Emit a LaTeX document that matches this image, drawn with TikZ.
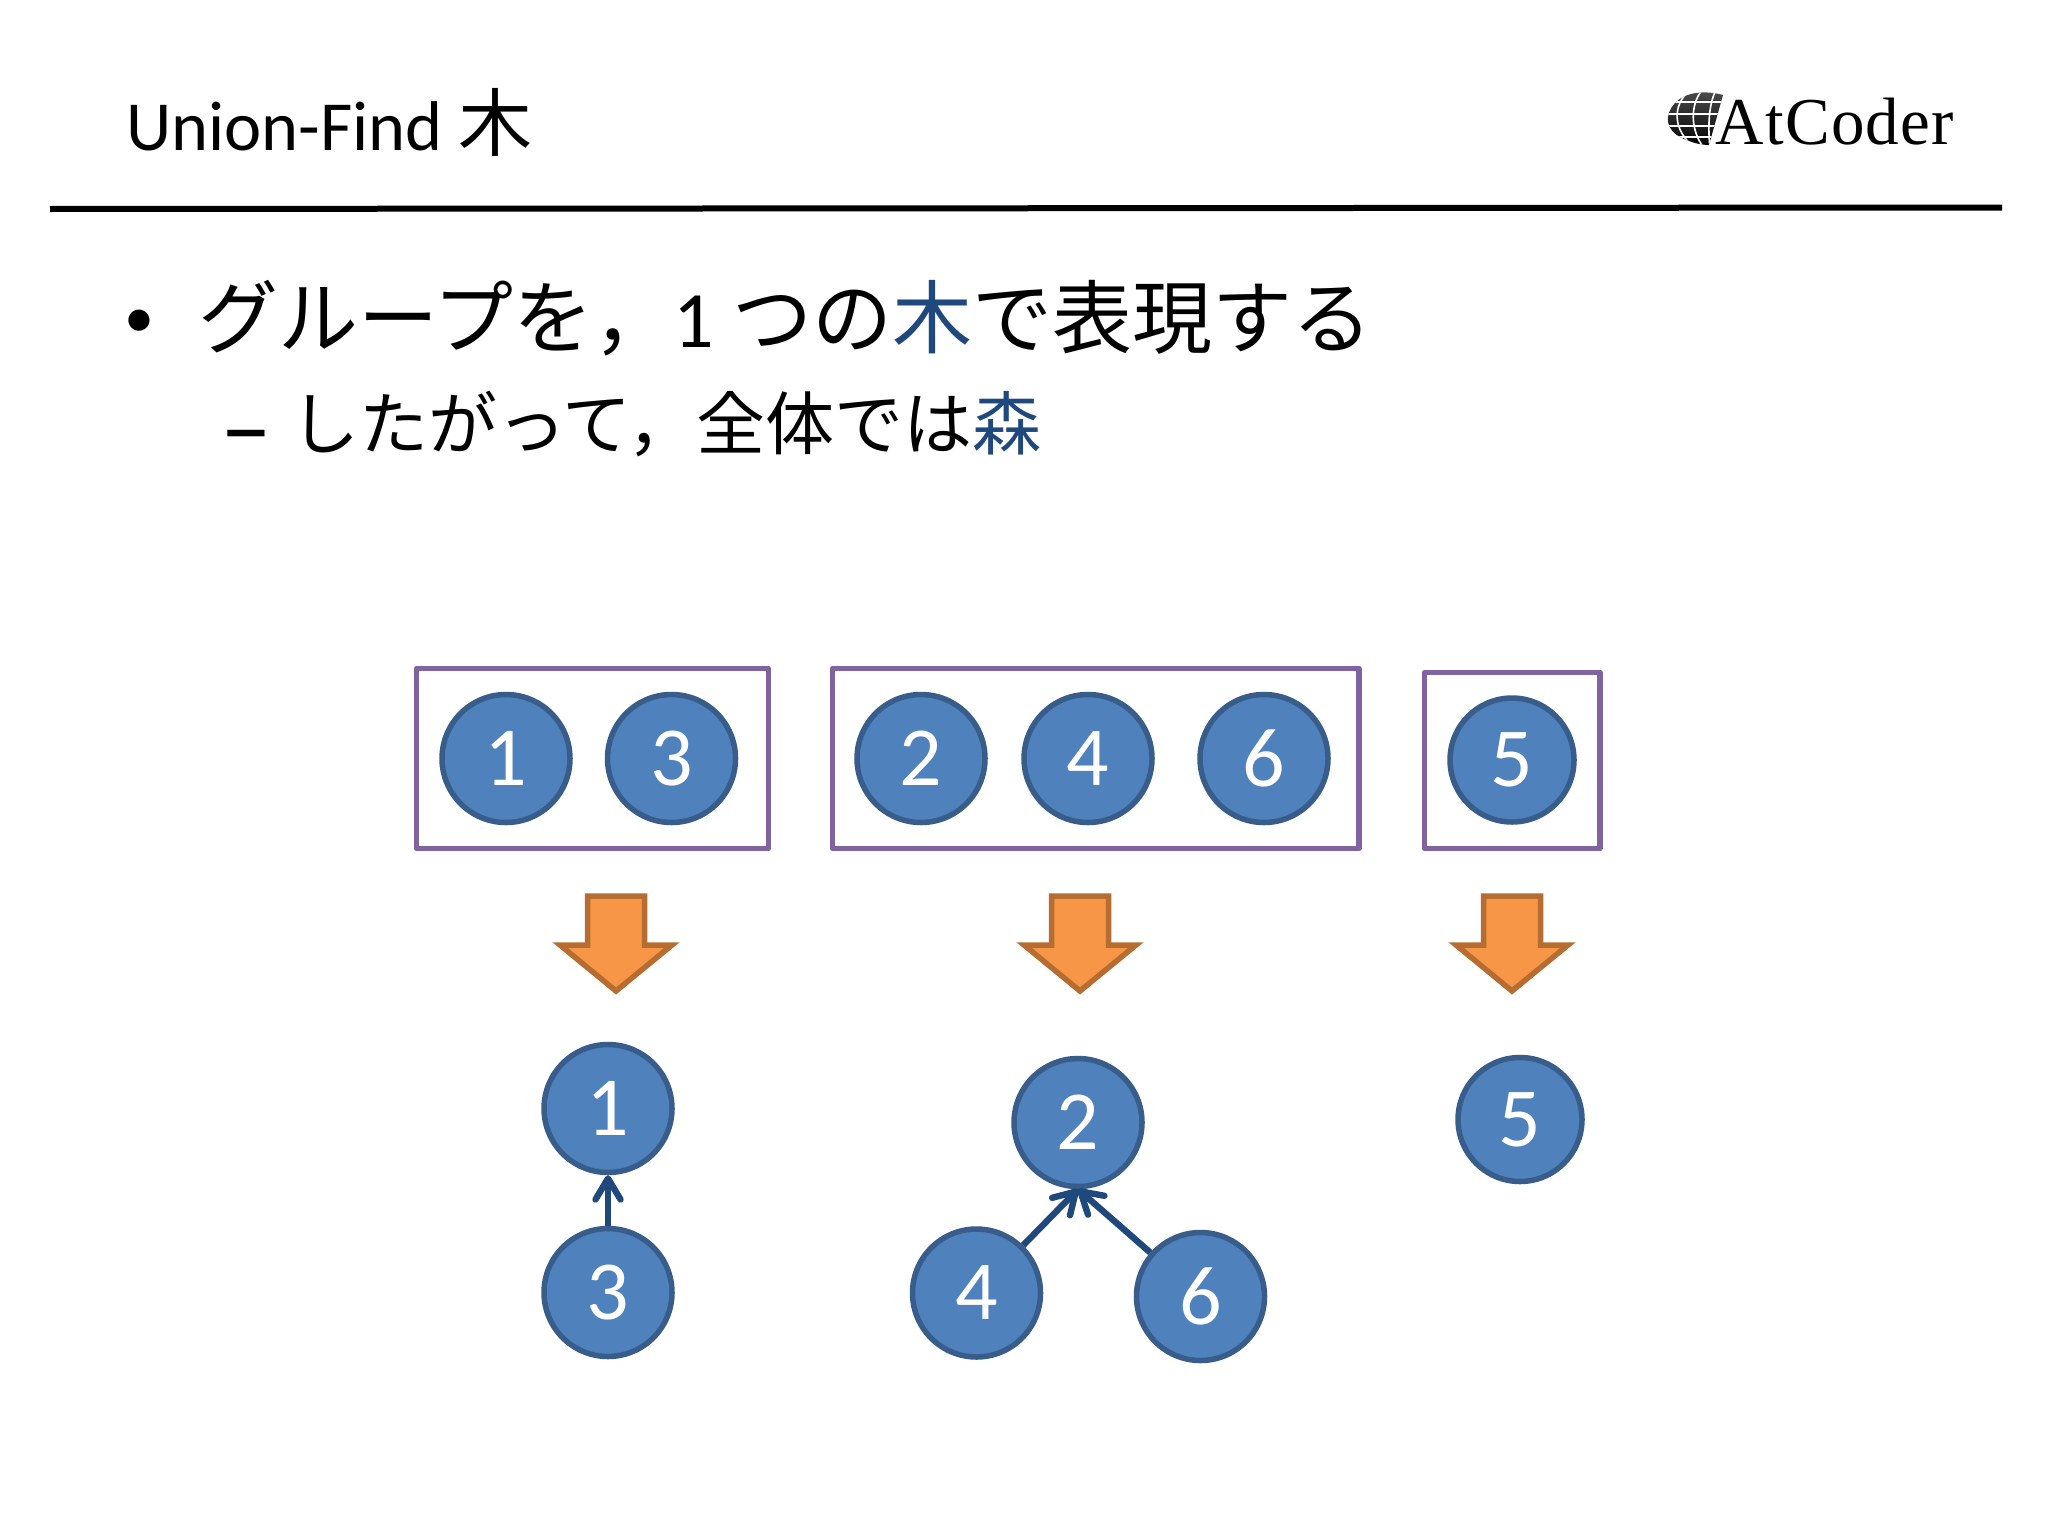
\documentclass[tikz,border=0pt]{standalone}
\usepackage{fontspec}
\setmainfont{Carlito}
\newfontfamily\jpfont{Noto Sans CJK JP}
\newfontfamily\logofont[LetterSpace=2]{Liberation Serif}
\usetikzlibrary{arrows.meta}
\definecolor{nodeblue}{HTML}{4F81BD}
\definecolor{nodeedge}{HTML}{385D8A}
\definecolor{darkblue}{HTML}{1F497D}
\definecolor{groupline}{HTML}{8064A2}
\definecolor{arroworange}{HTML}{F79646}
\definecolor{arrowedge}{HTML}{B66D31}
\tikzset{
	num/.style={circle,draw=nodeedge,fill=nodeblue,line width=2.75pt,text=white,inner sep=0pt,minimum size=64pt,font=\fontsize{42}{42}\selectfont},
	numsmall/.style={num,minimum size=62pt},
	groupbox/.style={draw=groupline,line width=2.75pt,line join=round},
	downarrow/.style={draw=arrowedge,fill=arroworange,line width=2.75pt,line join=miter},
	link/.style={draw=darkblue,line width=3.2pt,-{Straight Barb[length=10.5pt,width=12.5pt,round]}},
	line/.style={anchor=base west,inner sep=0pt,text=black}
}
\begin{document}
\begin{tikzpicture}[x=0.5pt,y=-0.5pt]
	\useasboundingbox (0,0) rectangle (2048,1536);
	\fill[white] (0,0) rectangle (2048,1536);
	% header
	\node[line,font=\fontsize{35.2}{38}\selectfont] (title) at (126,150) {Union-Find {\jpfont\fontsize{37}{37}\selectfont 木}};
	\coordinate (ruleL) at (50,209);
	\coordinate (ruleR) at (2002,207.5);
	\draw[line width=3pt] (ruleL) -- (ruleR);
	% logo
	\begin{scope}
		\clip (1723,95) .. controls (1705,90) and (1685,92) .. (1675,103) .. controls (1664,115) and (1665,130) .. (1682,138) .. controls (1690,142) and (1700,145) .. (1709,145) -- cycle;
		\shade[top color=black!70,bottom color=black] (1660,90) rectangle (1730,148);
		\foreach \gy in {102,114,126,137}
			\draw[white,line width=0.7pt] (1660,\gy) -- (1730,\gy);
		\draw[white,line width=0.8pt] (1690,90) .. controls (1672,105) and (1672,130) .. (1695,148);
		\draw[white,line width=0.8pt] (1702,90) .. controls (1690,105) and (1690,130) .. (1704,148);
		\draw[white,line width=0.8pt] (1716,90) .. controls (1708,105) and (1708,130) .. (1710,148);
	\end{scope}
	\node[line,font=\logofont\fontsize{33.5}{33.5}\selectfont] (logo) at (1715,144) {AtCoder};
	% text
	\node[line,font=\fontsize{30}{30}\selectfont] (dot) at (124,337) {•};
	\node[line,font=\jpfont\fontsize{40}{40}\selectfont] (first) at (198,347) {グループを，{\fontspec{Carlito}1} つの\textcolor{darkblue}{木}で表現する};
	\node[line,font=\fontsize{52}{52}\selectfont] (dash) at (220,462) {–};
	\node[line,font=\jpfont\fontsize{34.5}{34.5}\selectfont] (second) at (290,449) {したがって，全体では\textcolor{darkblue}{森}};
	% groups
	\draw[groupbox] (416.5,668.5) rectangle (768.5,848.5);
	\draw[groupbox] (832.5,668.5) rectangle (1359,848.5);
	\draw[groupbox] (1424.5,672.5) rectangle (1600,848.5);
	\node[num] (a1) at (506,758.5) {1};
	\node[num] (a3) at (671.5,758.5) {3};
	\node[num] (a2) at (921,758.5) {2};
	\node[num] (a4) at (1088,758.5) {4};
	\node[num] (a6) at (1264,758.5) {6};
	\node[numsmall] (a5) at (1512,760) {5};
	% arrows
	\foreach \ax in {616,1080,1512}
		\draw[downarrow] (\ax-28.5,896) -- (\ax+28.5,896) -- (\ax+28.5,945) -- (\ax+56,945) -- (\ax,991) -- (\ax-56,945) -- (\ax-28.5,945) -- cycle;
	% trees
	\node[num] (t1) at (608,1108.5) {1};
	\node[num] (t3) at (608,1292.5) {3};
	\node[num] (t2) at (1078,1122.5) {2};
	\node[num] (t4) at (976.5,1293) {4};
	\node[num] (t6) at (1200.5,1296.5) {6};
	\node[numsmall] (t5) at (1520,1119.5) {5};
	\draw[link] (t3) -- (t1);
	\draw[link] (t4) -- (t2.south);
	\draw[link] (t6) -- (t2.south);
\end{tikzpicture}
\end{document}
